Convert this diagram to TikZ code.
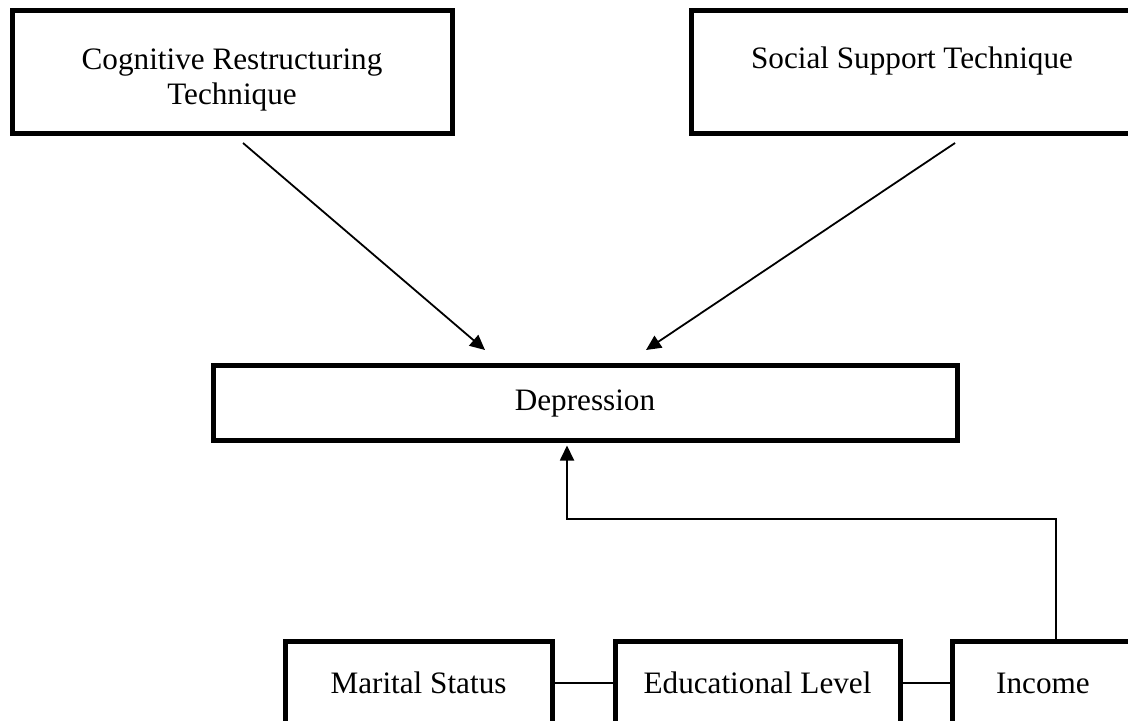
\documentclass[tikz,border=0pt]{standalone}
\usepackage{fontspec}
\setmainfont{Liberation Serif}
\usetikzlibrary{arrows.meta}

\begin{document}
\begin{tikzpicture}[x = 0.5pt, y = -0.5pt]
	\tikzstyle{BoxStyle} = [shape = rectangle, draw, line width = 2.5pt, align = center, inner sep = 0pt, font = \fontsize{15.6}{17.5}\selectfont]
	\tikzstyle{ArrowStyle} = [line width = 0.9pt, -{Triangle[length = 7.5pt, width = 7pt]}]
	\tikzstyle{LinkStyle} = [line width = 0.8pt]
	\useasboundingbox (0, 0) rectangle (1128, 721);
	\clip (0, 0) rectangle (1128, 721);
	\node[BoxStyle, minimum width = 220pt, minimum height = 61.5pt] (cog) at (232, 72.5) {\rule{0pt}{18pt}Cognitive Restructuring\\Technique};
	\node[BoxStyle, minimum width = 221pt, minimum height = 61.5pt, text height = 11pt, text depth = 14.5pt] (soc) at (912, 72.5) {Social Support Technique};
	\node[BoxStyle, minimum width = 372pt, minimum height = 37.5pt] (dep) at (585, 403) {Depression};
	\node[BoxStyle, minimum width = 133.5pt, minimum height = 42pt] (mar) at (418.5, 683) {Marital Status};
	\node[BoxStyle, minimum width = 142.5pt, minimum height = 42pt] (edu) at (757.5, 683) {Educational Level};
	\node[BoxStyle, minimum width = 91pt, minimum height = 42pt] (inc) at (1043, 683) {Income};
	\coordinate (cogOut) at (243, 143);
	\coordinate (cogIn) at (485, 350);
	\coordinate (socOut) at (955, 143);
	\coordinate (socIn) at (646, 350);
	\coordinate (incOut) at (1056, 641);
	\coordinate (bend) at (567, 519);
	\draw[ArrowStyle] (cogOut) -- (cogIn);
	\draw[ArrowStyle] (socOut) -- (socIn);
	\draw[ArrowStyle, shorten >= 1.25pt] (incOut) |- (bend) -- (dep.south -| bend);
	\draw[LinkStyle] (mar) -- (edu);
	\draw[LinkStyle] (edu) -- (inc);
\end{tikzpicture}
\end{document}
